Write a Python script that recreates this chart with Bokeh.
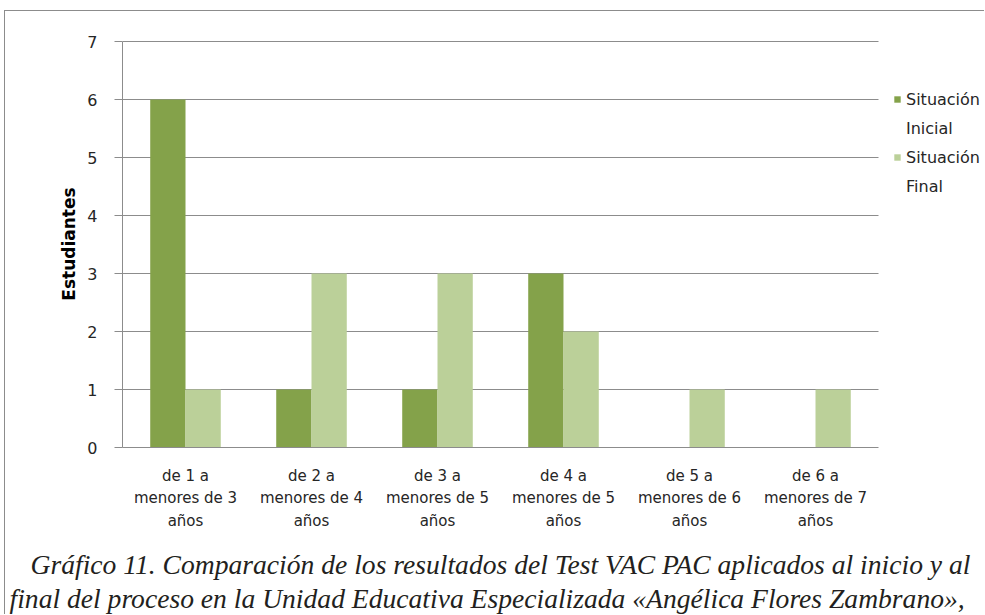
from bokeh.plotting import figure
from bokeh.models import FixedTicker, Range1d, Legend, LegendItem, Title
from bokeh.embed import file_html
from bokeh.resources import INLINE

categories_l1 = ["de 1 a", "de 2 a", "de 3 a", "de 4 a", "de 5 a", "de 6 a"]
categories_l2 = ["menores de 3", "menores de 4", "menores de 5", "menores de 5", "menores de 6", "menores de 7"]
categories_l3 = ["años", "años", "años", "años", "años", "años"]
inicial = [6, 1, 1, 3, 0, 0]
final = [1, 3, 3, 2, 1, 1]
series_names = [["Situación", "Inicial"], ["Situación", "Final"]]
y_ticks = [0, 1, 2, 3, 4, 5, 6, 7]
y_label = "Estudiantes"
caption = [
    "Gráfico 11. Comparación de los resultados del  Test VAC PAC  aplicados al inicio y al",
    "final del proceso en la Unidad Educativa Especializada «Angélica Flores Zambrano»,",
]

DARK = "#84A24A"
LIGHT = "#BBD099"
GRID = "#8c8c8c"
TXT = "#262626"
SANS = "DejaVu Sans"

n = len(inicial)
# the frame also holds the legend area on the right (107 px beyond the 756 px chart)
x_end = n * (756 + 107) / 756
# one extra pixel above the top tick so that its grid line is not clipped
y_end = y_ticks[-1] * (407 / 406)

p = figure(width=980, height=604, x_range=Range1d(0, x_end), y_range=Range1d(0, y_end),
           output_backend="svg", toolbar_location=None,
           min_border_left=117, min_border_right=0, min_border_top=29, min_border_bottom=168)
p.styles = {"margin-left": "4px", "margin-top": "10px", "margin-bottom": "-12px",
            "border-top": "1px solid #8c8c8c", "border-left": "1px solid #8c8c8c"}
p.outline_line_color = None
p.background_fill_color = "white"
p.border_fill_color = "white"

xs = [i + 0.5 for i in range(n)]
r1 = p.vbar(x=[x - 0.14 for x in xs], top=inicial, width=0.28, fill_color=DARK, line_color=None)
r2 = p.vbar(x=[x + 0.14 for x in xs], top=final, width=0.28, fill_color=LIGHT, line_color=None)
blank = p.vbar(x=[], top=[], width=0.1, fill_alpha=0, line_alpha=0)

p.xgrid.visible = False
p.ygrid.ticker = FixedTicker(ticks=y_ticks)
p.ygrid.grid_line_color = GRID
p.ygrid.grid_line_width = 1
try:
    p.ygrid.cross_bounds = (0, n)
except AttributeError:
    p.ygrid.visible = False
    p.segment(x0=0, x1=n, y0=y_ticks, y1=y_ticks, line_color=GRID, line_width=1, level="underlay")

p.xaxis.bounds = (0, n)
p.xaxis.ticker = FixedTicker(ticks=xs)
p.xaxis.major_label_overrides = {
    x: "\n".join([categories_l1[i], categories_l2[i], categories_l3[i]]) for i, x in enumerate(xs)
}
p.xaxis.axis_line_color = GRID
p.xaxis.major_tick_line_color = None
p.xaxis.minor_tick_line_color = None
p.xaxis.major_label_text_font = SANS
p.xaxis.major_label_text_font_size = "15px"
p.xaxis.major_label_text_color = TXT
p.xaxis.major_label_text_line_height = 1.25
p.xaxis.major_label_standoff = 13

p.yaxis.bounds = (0, y_ticks[-1])
p.yaxis.ticker = FixedTicker(ticks=y_ticks)
p.yaxis.axis_line_color = GRID
p.yaxis.major_tick_line_color = GRID
p.yaxis.major_tick_out = 8
p.yaxis.major_tick_in = 0
p.yaxis.minor_tick_line_color = None
p.yaxis.major_label_text_font = SANS
p.yaxis.major_label_text_font_size = "16px"
p.yaxis.major_label_text_color = TXT
p.yaxis.major_label_standoff = 17
p.yaxis.axis_label = y_label
p.yaxis.axis_label_text_font = SANS
p.yaxis.axis_label_text_font_size = "17px"
p.yaxis.axis_label_text_font_style = "bold"
p.yaxis.axis_label_text_color = "#000000"
p.yaxis.axis_label_standoff = 5

legend = Legend(items=[
    LegendItem(label=" ", renderers=[blank]),
    LegendItem(label=series_names[0][0], renderers=[r1]),
    LegendItem(label=series_names[0][1], renderers=[blank]),
    LegendItem(label=series_names[1][0], renderers=[r2]),
    LegendItem(label=series_names[1][1], renderers=[blank]),
], location=(771, 247))
legend.margin = 0
legend.padding = 0
legend.spacing = 1
legend.label_height = 28
legend.glyph_width = 8
legend.glyph_height = 8
legend.label_standoff = 5
legend.label_text_font = SANS
legend.label_text_font_size = "16px"
legend.label_text_color = TXT
legend.border_line_color = None
legend.background_fill_alpha = 0
p.add_layout(legend)

# small spacer between the category labels and the caption
p.add_layout(Title(text=" ", text_font_size="1px", standoff=11), "below")
p.add_layout(Title(text=caption[0], align="left", offset=-92, text_font="Liberation Serif",
                   text_font_style="italic", text_font_size="27.6px", text_color="#231f20",
                   standoff=1), "below")
p.add_layout(Title(text=caption[1], align="left", offset=-113, text_font="Liberation Serif",
                   text_font_style="italic", text_font_size="27.6px", text_color="#231f20",
                   standoff=0), "below")

open("out.html", "w").write(file_html(p, INLINE))
